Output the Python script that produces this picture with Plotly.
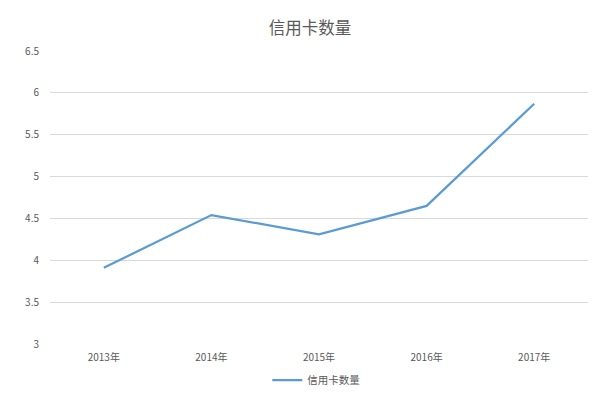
import plotly.graph_objects as go

categories = ["2013年", "2014年", "2015年", "2016年", "2017年"]
values = [3.91, 4.54, 4.31, 4.65, 5.87]
series_name = "信用卡数量"
title_text = "信用卡数量"
y_ticks = [3, 3.5, 4, 4.5, 5, 5.5, 6, 6.5]
y_tick_labels = ["3", "3.5", "4", "4.5", "5", "5.5", "6", "6.5"]

FONT = "Noto Sans CJK SC, Microsoft YaHei, sans-serif"

fig = go.Figure()
fig.add_trace(go.Scatter(
    x=categories, y=values, mode="lines", name=series_name,
    line=dict(color="#5B9BD5", width=2.25),
))

# page body has an 8px default margin, so figure is 600x390
fig.update_layout(
    width=600, height=390,
    paper_bgcolor="white", plot_bgcolor="white",
    margin=dict(l=42, r=20, t=43, b=54, autoexpand=False),
    title=dict(text=title_text, x=(310 - 8) / 600, xanchor="center", y=1 - 20/390, yref="container",
               yanchor="middle", font=dict(family=FONT, size=16.5, color="#595959")),
    showlegend=True,
    legend=dict(orientation="h", x=(305 - 8) / 600, xref="paper", xanchor="center",
                y=-36/293, yanchor="middle",
                font=dict(family=FONT, size=10.5, color="#595959"),
                itemwidth=30),
    font=dict(family=FONT, color="#595959"),
)
fig.update_xaxes(
    type="category", range=[-0.5, 4.5], showgrid=False, zeroline=False,
    showline=False, ticks="", ticklabelstandoff=6,
    tickfont=dict(family=FONT, size=10, color="#595959"),
)
fig.update_yaxes(
    range=[3, 6.5], tickvals=y_ticks, ticktext=y_tick_labels,
    showgrid=True, gridcolor="#D9D9D9", gridwidth=1, zeroline=False,
    showline=False, ticks="", ticklabelstandoff=10,
    tickfont=dict(family=FONT, size=10, color="#595959"),
)

fig.write_html("out.html")
